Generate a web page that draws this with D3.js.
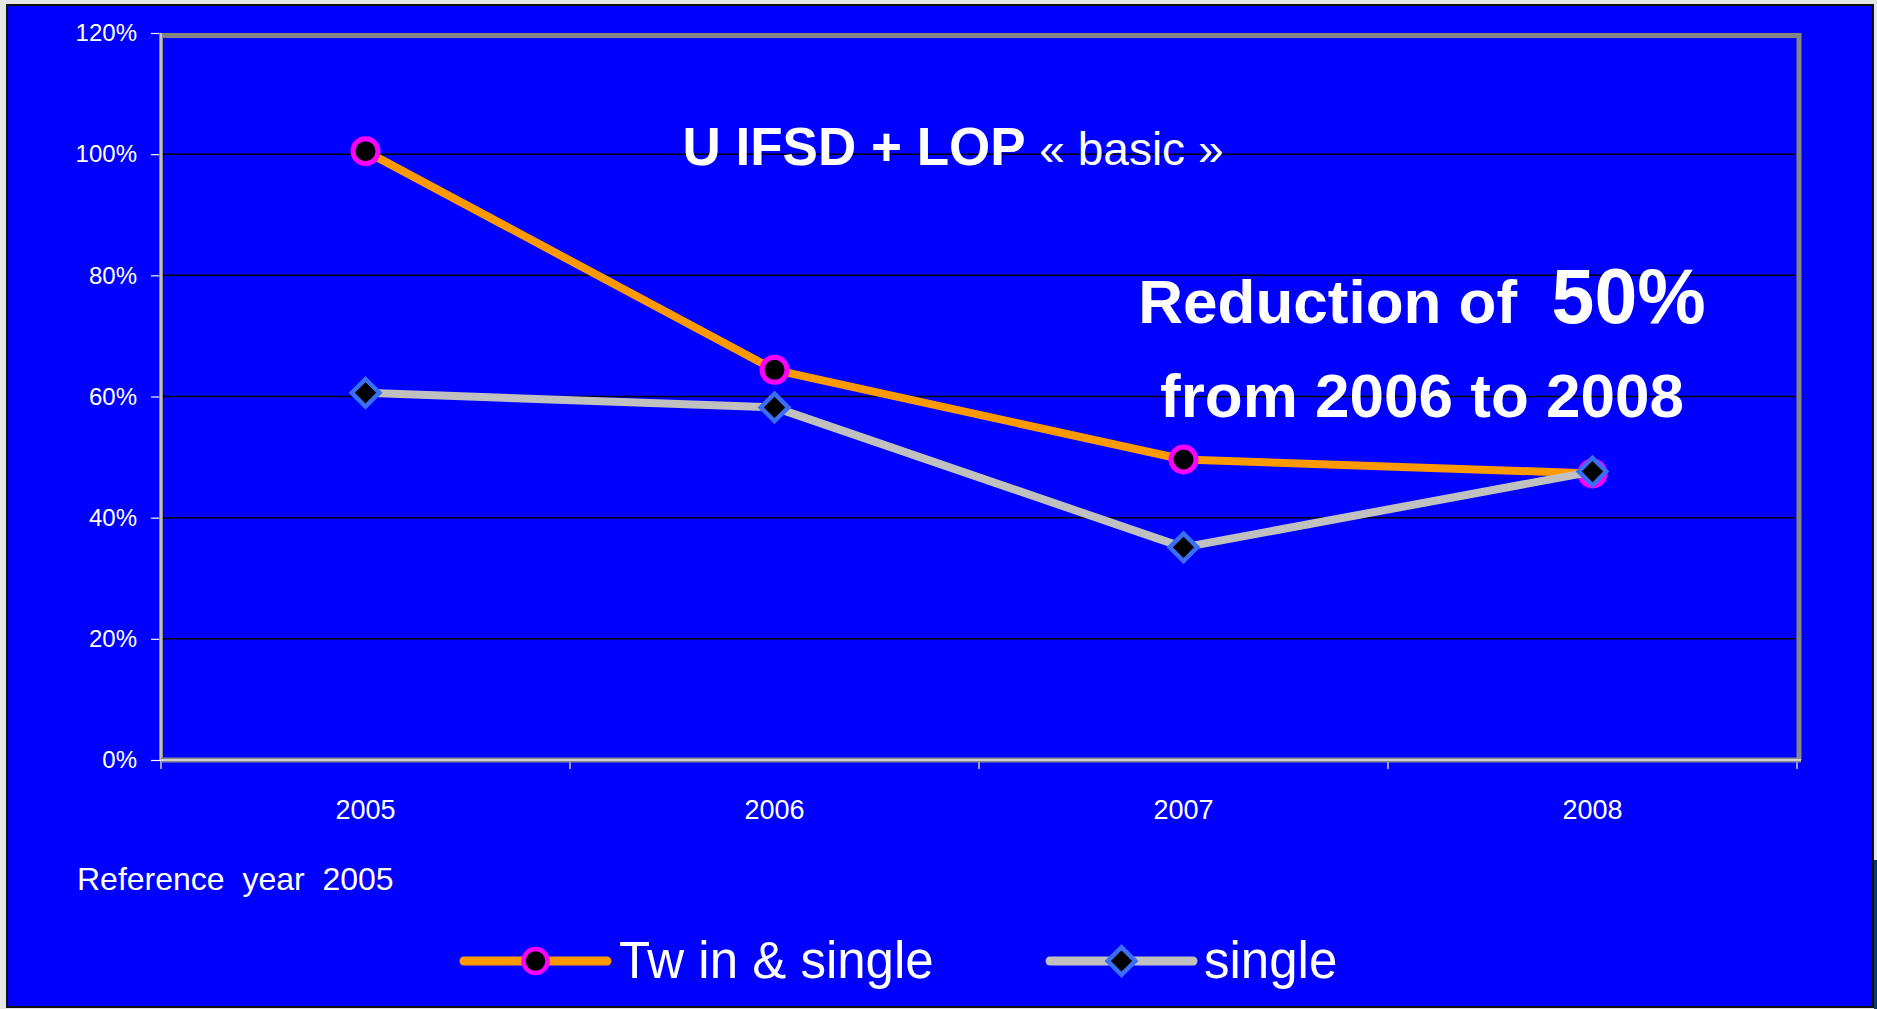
<!DOCTYPE html>
<html>
<head>
<meta charset="utf-8">
<script src="https://cdn.jsdelivr.net/npm/d3@7/dist/d3.min.js"></script>
<style>
  html, body { margin: 0; padding: 0; background: #e3e6e4; }
  #MyGraph { display: block; }
  .axis text { fill: #fff; font-family: "Liberation Sans", Arial, sans-serif; }
  .axis path { display: none; }
  .axis line { stroke: #fff; stroke-width: 1.2; }
</style>
</head>
<body>
<svg id="MyGraph" width="1877" height="1009"></svg>
<script>
// data
var years = ["2005", "2006", "2007", "2008"];
var twinSingle = [1.005, 0.644, 0.496, 0.473];
var single = [0.606, 0.582, 0.351, 0.476];
var yTicks = [0, 0.2, 0.4, 0.6, 0.8, 1.0, 1.2];
var seriesNames = ["Tw in & single", "single"];

var font = '"Liberation Sans", Arial, sans-serif';
var svg = d3.select("#MyGraph");

// slide background
svg.append("rect")
    .attr("x", 7).attr("y", 5).attr("width", 1866).attr("height", 1002)
    .attr("fill", "#0000ff").attr("stroke", "#111").attr("stroke-width", 2);
svg.append("rect")
    .attr("x", 1874).attr("y", 860).attr("width", 3).attr("height", 149)
    .attr("fill", "#0b3a6a");

// plot area
var plot = {left: 161, right: 1797, top: 33, bottom: 760};

var x_scale = d3.scaleBand().domain(years).range([plot.left, plot.right]);
var y_scale = d3.scaleLinear().domain([0, 1.2]).range([plot.bottom, plot.top]);

// gridlines
svg.append("g")
    .selectAll("line")
    .data(yTicks.filter(function(d){ return d > 0 && d < 1.2; }))
    .enter()
    .append("line")
    .attr("x1", plot.left).attr("x2", plot.right - 2)
    .attr("y1", function(d){ return y_scale(d); })
    .attr("y2", function(d){ return y_scale(d); })
    .attr("stroke", "#000").attr("stroke-width", 1.5);

// top and right border
svg.append("path")
    .attr("d", "M" + plot.left + "," + (plot.top + 2.5) + "H" + (plot.right + 2) + "V" + plot.bottom)
    .attr("fill", "none").attr("stroke", "#858585").attr("stroke-width", 5);

// Y axis
var yAxis = svg.append("g")
    .attr("class", "axis")
    .attr("transform", "translate(" + plot.left + ",0)")
    .call(d3.axisLeft(y_scale).tickValues(yTicks).tickSizeInner(10).tickSizeOuter(0)
        .tickPadding(14).tickFormat(d3.format(".0%")));
yAxis.selectAll("text").style("font-size", "24px");

// X axis
var xAxis = svg.append("g")
    .attr("class", "axis")
    .attr("transform", "translate(0," + plot.bottom + ")")
    .call(d3.axisBottom(x_scale).tickSize(0).tickPadding(40));
xAxis.selectAll("text").style("font-size", "27px");
xAxis.selectAll(".bound")
    .data(d3.range(years.length + 1))
    .enter()
    .append("line")
    .attr("class", "bound")
    .attr("x1", function(d){ return plot.left + d * x_scale.bandwidth(); })
    .attr("x2", function(d){ return plot.left + d * x_scale.bandwidth(); })
    .attr("y1", 0).attr("y2", 9);

// axis lines (gray with a light core)
svg.append("line")
    .attr("x1", plot.left).attr("x2", plot.left).attr("y1", plot.top).attr("y2", plot.bottom)
    .attr("stroke", "#8a8a8a").attr("stroke-width", 4);
svg.append("line")
    .attr("x1", plot.left).attr("x2", plot.left).attr("y1", plot.top).attr("y2", plot.bottom)
    .attr("stroke", "#e8e8e8").attr("stroke-width", 1.2);
svg.append("line")
    .attr("x1", plot.left).attr("x2", plot.right + 4).attr("y1", plot.bottom).attr("y2", plot.bottom)
    .attr("stroke", "#8a8a8a").attr("stroke-width", 5);
svg.append("line")
    .attr("x1", plot.left).attr("x2", plot.right + 4).attr("y1", plot.bottom).attr("y2", plot.bottom)
    .attr("stroke", "#e8e8e8").attr("stroke-width", 1.5);

// lines
var line1 = d3.line()
    .x(function(d, i){ return x_scale(years[i]) + x_scale.bandwidth() / 2; })
    .y(function(d){ return y_scale(d); });

var diamond = d3.symbol().type(d3.symbolSquare).size(380);

svg.append("path")
    .datum(twinSingle)
    .attr("d", line1)
    .attr("fill", "none").attr("stroke", "#ff9900").attr("stroke-width", 8)
    .attr("stroke-linejoin", "round");

svg.selectAll("circle.twin")
    .data(twinSingle)
    .enter()
    .append("circle")
    .attr("class", "twin")
    .attr("r", 12.5)
    .attr("fill", "#000").attr("stroke", "#ff00ff").attr("stroke-width", 5)
    .attr("cx", function(d, i){ return x_scale(years[i]) + x_scale.bandwidth() / 2; })
    .attr("cy", function(d){ return y_scale(d); });

svg.append("path")
    .datum(single)
    .attr("d", line1)
    .attr("fill", "none").attr("stroke", "#c0c0c0").attr("stroke-width", 8)
    .attr("stroke-linejoin", "round");

svg.selectAll("path.single")
    .data(single)
    .enter()
    .append("path")
    .attr("class", "single")
    .attr("d", diamond)
    .attr("fill", "#000").attr("stroke", "#3a6ef5").attr("stroke-width", 4.5)
    .attr("transform", function(d, i){
      return "translate(" + (x_scale(years[i]) + x_scale.bandwidth() / 2) + "," + y_scale(d) + ") rotate(45)";
    });

// title
var title = svg.append("text")
    .attr("x", 953).attr("y", 165)
    .attr("text-anchor", "middle")
    .attr("fill", "#fff")
    .style("font-family", font);
title.append("tspan").style("font-weight", "bold").style("font-size", "53px").text("U IFSD + LOP ");
title.append("tspan").style("font-size", "46px").text("\u00ab basic \u00bb");

// annotation
var note1 = svg.append("text")
    .attr("x", 1422).attr("y", 323)
    .attr("text-anchor", "middle")
    .attr("fill", "#fff")
    .style("font-family", font).style("font-weight", "bold")
    .attr("xml:space", "preserve");
note1.append("tspan").style("font-size", "62px").text("Reduction of  ");
note1.append("tspan").style("font-size", "77px").text("50%");

svg.append("text")
    .attr("x", 1422).attr("y", 417)
    .attr("text-anchor", "middle")
    .attr("fill", "#fff")
    .style("font-family", font).style("font-weight", "bold").style("font-size", "62px")
    .text("from 2006 to 2008");

svg.append("text")
    .attr("x", 77).attr("y", 890)
    .attr("fill", "#fff")
    .attr("xml:space", "preserve")
    .style("font-family", font).style("font-size", "32px")
    .text("Reference  year  2005");

// legend
var legend = svg.append("g");
var legendItems = [
  {x1: 464, x2: 607, tx: 619, color: "#ff9900", name: seriesNames[0], mark: "circle"},
  {x1: 1050, x2: 1193, tx: 1204, color: "#c0c0c0", name: seriesNames[1], mark: "diamond"}
];
legendItems.forEach(function(it){
  legend.append("line")
      .attr("x1", it.x1).attr("x2", it.x2).attr("y1", 961).attr("y2", 961)
      .attr("stroke", it.color).attr("stroke-width", 9).attr("stroke-linecap", "round");
  var cx = (it.x1 + it.x2) / 2;
  if (it.mark == "circle") {
    legend.append("circle")
        .attr("cx", cx).attr("cy", 961).attr("r", 12)
        .attr("fill", "#000").attr("stroke", "#ff00ff").attr("stroke-width", 4.5);
  } else {
    legend.append("path")
        .attr("d", diamond)
        .attr("fill", "#000").attr("stroke", "#3a6ef5").attr("stroke-width", 4.5)
        .attr("transform", "translate(" + cx + ",961) rotate(45)");
  }
  legend.append("text")
      .attr("x", it.tx).attr("y", 978)
      .attr("fill", "#fff")
      .attr("xml:space", "preserve")
      .style("font-family", font).style("font-size", "51px")
      .text(it.name);
});
</script>
</body>
</html>
